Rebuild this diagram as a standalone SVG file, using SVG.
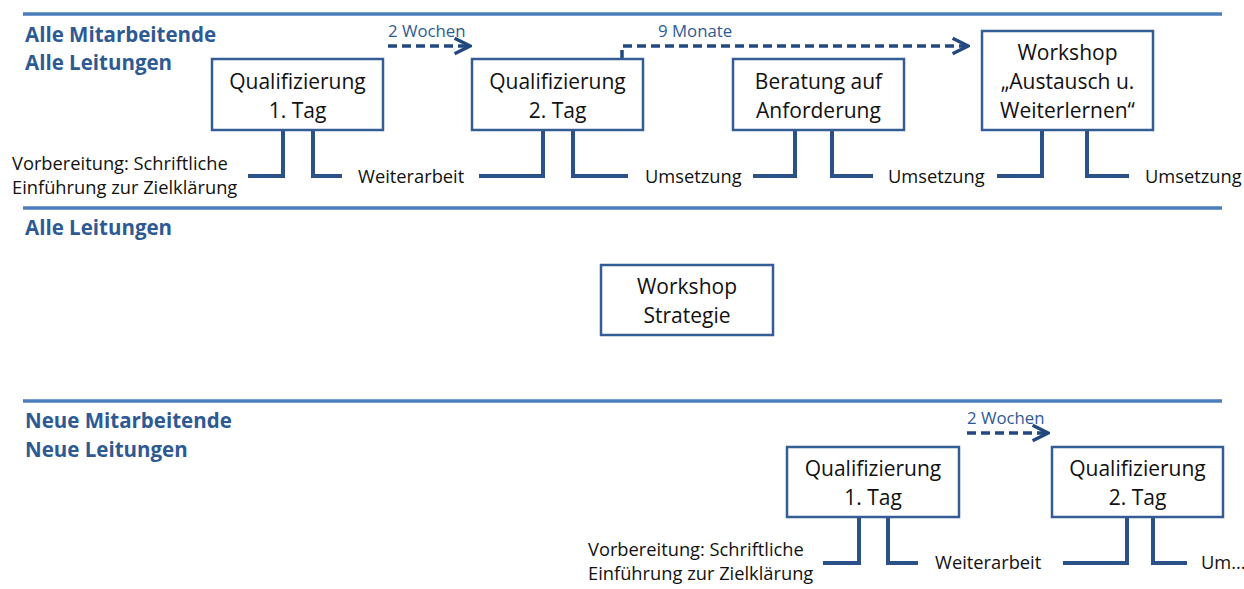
<svg xmlns="http://www.w3.org/2000/svg" width="1244" height="589" viewBox="0 0 1244 589">
<defs>
<style>
.sec{stroke:#4a7ebb;stroke-width:3.5;fill:none}
.hd{font-family:"Open Sans","Liberation Sans",sans-serif;font-weight:bold;font-size:20.5px;fill:#2e5a94}
.box{fill:#fff;stroke:#345d94;stroke-width:2.5}
.bt{font-family:"Open Sans","Liberation Sans",sans-serif;font-size:21px;fill:#111;text-anchor:middle}
.br{stroke:#2c5088;stroke-width:4;fill:none}
.lb{font-family:"Open Sans","Liberation Sans",sans-serif;font-size:18.3px;fill:#111}
.dt{font-family:"Open Sans","Liberation Sans",sans-serif;font-size:16.8px;fill:#2e5a94}
.da{stroke:#22497f;stroke-width:3.5;fill:none;stroke-dasharray:9,5}
</style>
<marker id="ah" viewBox="0 0 10 10" refX="9" refY="5" markerWidth="5.5" markerHeight="5.5" orient="auto" markerUnits="strokeWidth">
<path d="M1,1 L9,5 L1,9" fill="none" stroke="#22497f" stroke-width="1.8"/>
</marker>
</defs>

<g id="sections">
<line class="sec" x1="23" y1="14" x2="1222" y2="14"/>
<line class="sec" x1="23" y1="208" x2="1222" y2="208"/>
<line class="sec" x1="23" y1="401" x2="1222" y2="401"/>
<text class="hd" x="25" y="42">Alle Mitarbeitende</text>
<text class="hd" x="25" y="70">Alle Leitungen</text>
<text class="hd" x="25" y="235">Alle Leitungen</text>
<text class="hd" x="25" y="428">Neue Mitarbeitende</text>
<text class="hd" x="25" y="457">Neue Leitungen</text>
</g>

<g id="connectors">
<text class="dt" x="388" y="37">2 Wochen</text>
<path class="da" d="M388,46 H470" marker-end="url(#ah)"/>
<text class="dt" x="658" y="37">9 Monate</text>
<path class="da" d="M622,59 V46 H968" marker-end="url(#ah)"/>
<text class="dt" x="967" y="424">2 Wochen</text>
<path class="da" d="M967,433 H1048" marker-end="url(#ah)"/>

<path class="br" d="M248,176 H283 V130 M313,130 V176 H342"/>
<path class="br" d="M479,176 H543 V130 M573,130 V176 H628"/>
<path class="br" d="M753,176 H795 V130 M832,130 V176 H873"/>
<path class="br" d="M997,176 H1042 V130 M1087,130 V176 H1129"/>
<path class="br" d="M823,563 H859 V517 M888,517 V563 H918"/>
<path class="br" d="M1063,563 H1127 V517 M1153,517 V563 H1187"/>
</g>

<g id="labels">
<text class="lb" x="12" y="170">Vorbereitung: Schriftliche</text>
<text class="lb" x="12" y="194">Einführung zur Zielklärung</text>
<text class="lb" x="358" y="183">Weiterarbeit</text>
<text class="lb" x="645" y="183">Umsetzung</text>
<text class="lb" x="888" y="183">Umsetzung</text>
<text class="lb" x="1145" y="183">Umsetzung</text>
<text class="lb" x="588" y="556">Vorbereitung: Schriftliche</text>
<text class="lb" x="588" y="580">Einführung zur Zielklärung</text>
<text class="lb" x="935" y="569">Weiterarbeit</text>
<text class="lb" x="1201" y="569">Um...</text>
</g>

<g id="q1">
<rect class="box" x="212" y="59" width="171" height="71"/>
<text class="bt" x="297.5" y="89">Qualifizierung</text>
<text class="bt" x="297.5" y="118">1. Tag</text>
</g>
<g id="q2">
<rect class="box" x="472" y="59" width="171" height="71"/>
<text class="bt" x="557.5" y="89">Qualifizierung</text>
<text class="bt" x="557.5" y="118">2. Tag</text>
</g>
<g id="beratung">
<rect class="box" x="733" y="59" width="171" height="71"/>
<text class="bt" x="818.5" y="89">Beratung auf</text>
<text class="bt" x="818.5" y="118">Anforderung</text>
</g>
<g id="workshop-austausch">
<rect class="box" x="982" y="31" width="171" height="99"/>
<text class="bt" x="1067.5" y="60">Workshop</text>
<text class="bt" x="1067.5" y="89">„Austausch u.</text>
<text class="bt" x="1067.5" y="118">Weiterlernen“</text>
</g>
<g id="workshop-strategie">
<rect class="box" x="601" y="265" width="172" height="70"/>
<text class="bt" x="687" y="294">Workshop</text>
<text class="bt" x="687" y="323">Strategie</text>
</g>
<g id="nq1">
<rect class="box" x="787" y="447" width="172" height="70"/>
<text class="bt" x="873" y="476">Qualifizierung</text>
<text class="bt" x="873" y="505">1. Tag</text>
</g>
<g id="nq2">
<rect class="box" x="1052" y="447" width="171" height="70"/>
<text class="bt" x="1137.5" y="476">Qualifizierung</text>
<text class="bt" x="1137.5" y="505">2. Tag</text>
</g>
</svg>
